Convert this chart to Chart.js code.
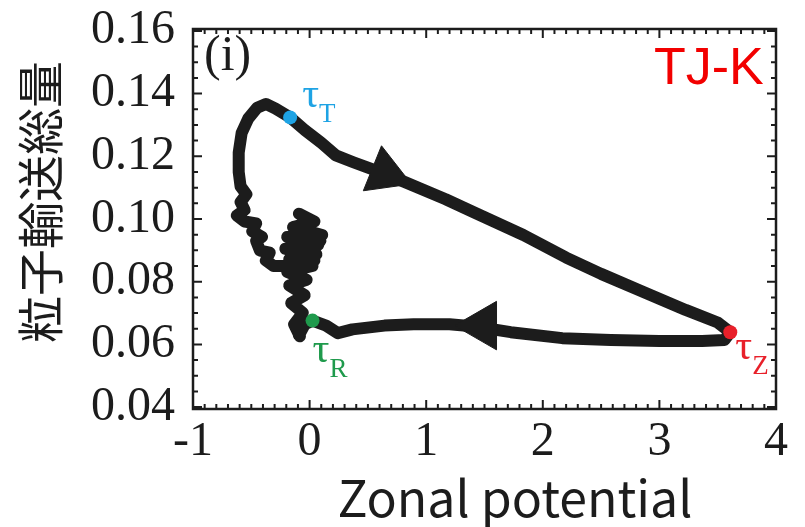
<!DOCTYPE html>
<html>
<head>
<meta charset="utf-8">
<script src="https://cdn.jsdelivr.net/npm/chart.js@4.4.0/dist/chart.umd.min.js"></script>
<style>
  html, body { margin: 0; padding: 0; background: #fff; }
  #wrap { width: 805px; height: 527px; }
</style>
</head>
<body>
<div id="wrap"><canvas id="LoopChart" width="805" height="527"></canvas></div>
<script>
// trajectory in (zonal potential, particle transport) space
var zonalX = [
  // turbulent phase near the origin
  -0.083, -0.133, -0.058, -0.158, -0.042, -0.175, -0.025, -0.192, 0.025, -0.175,
  0.058, -0.208, 0.075, -0.192, 0.108, -0.142, 0.042, -0.092, -0.008, -0.108,
  0.092, -0.158, 0.042, -0.108, -0.208,
  -0.308, -0.375, -0.342, -0.425, -0.458, -0.408, -0.492, -0.458, -0.558, -0.625,
  -0.558, -0.592, -0.542, -0.592,
  // rise to tau_T and the big loop
  -0.608, -0.608, -0.583, -0.525, -0.450, -0.375, -0.292, -0.167, -0.042, 0.100,
  0.225, 0.375, 0.600, 0.808, 1.167, 1.417, 1.833, 2.200, 2.500, 2.833,
  3.225, 3.500, 3.608, 3.558, 3.367, 3.000, 2.583, 2.167, 1.725, 1.417,
  1.200, 0.892, 0.642, 0.367, 0.242, 0.142, 0.025, -0.042, -0.092
];
var fluxY = [
  0.0626, 0.0664, 0.0701, 0.0732, 0.0757, 0.0788, 0.0806, 0.0831, 0.0850, 0.0871,
  0.0887, 0.0905, 0.0918, 0.0943, 0.0949, 0.0974, 0.0992, 0.1017, 0.0998, 0.0955,
  0.0930, 0.0887, 0.0868, 0.0825, 0.0850,
  0.0850, 0.0868, 0.0893, 0.0899, 0.0930, 0.0943, 0.0961, 0.0986, 0.0992, 0.1011,
  0.1029, 0.1054, 0.1079, 0.1104,
  0.1150, 0.1212, 0.1274, 0.1321, 0.1355, 0.1367, 0.1352, 0.1324, 0.1284, 0.1243,
  0.1203, 0.1181, 0.1150, 0.1119, 0.1063, 0.1020, 0.0949, 0.0877, 0.0825, 0.0772,
  0.0710, 0.0670, 0.0639, 0.0614, 0.0611, 0.0611, 0.0614, 0.0620, 0.0639, 0.0657,
  0.0664, 0.0664, 0.0660, 0.0648, 0.0636, 0.0660, 0.0676, 0.0664, 0.0629
];

// characteristic times tau_T, tau_R, tau_Z
var tauNames = ["T", "R", "Z"];
var tauX = [-0.167, 0.025, 3.608];
var tauY = [0.1324, 0.0676, 0.0639];
var tauColors = ["#1ea3e4", "#1f9a4c", "#e8202a"];

// direction arrows on the loop
var arrowX = [0.650, 1.483];
var arrowY = [0.1145, 0.0660];
var arrowAngle = [112, 270];

var xTicks = [-1, 0, 1, 2, 3, 4];
var yTicks = [0.04, 0.06, 0.08, 0.10, 0.12, 0.14, 0.16];

function pairs(xs, ys) {
  return xs.map(function (v, i) { return { x: v, y: ys[i] }; });
}

var ink = "#1c1c1c";

// inward ticks on all four sides + frame
var frameTicks = {
  id: "frameTicks",
  afterDraw: function (chart) {
    var ctx = chart.ctx;
    var a = chart.chartArea;
    var xs = chart.scales.x, ys = chart.scales.y;
    ctx.save();
    ctx.strokeStyle = ink;
    ctx.lineWidth = 2;
    var i, v, p, len;
    for (i = -10; i <= 40; i++) {
      v = i / 10;
      p = xs.getPixelForValue(v);
      if (p < a.left + 1 || p > a.right - 1) continue;
      len = (i % 10 === 0) ? 9 : 5;
      ctx.beginPath();
      ctx.moveTo(p, a.bottom); ctx.lineTo(p, a.bottom - len);
      ctx.moveTo(p, a.top); ctx.lineTo(p, a.top + len);
      ctx.stroke();
    }
    for (i = 8; i <= 32; i++) {
      v = i * 0.005;
      p = ys.getPixelForValue(v);
      if (p < a.top + 1 || p > a.bottom - 1) continue;
      len = (i % 4 === 0) ? 9 : 5;
      ctx.beginPath();
      ctx.moveTo(a.left, p); ctx.lineTo(a.left + len, p);
      ctx.moveTo(a.right, p); ctx.lineTo(a.right - len, p);
      ctx.stroke();
    }
    ctx.lineWidth = 2.5;
    ctx.strokeRect(a.left, a.top, a.right - a.left, a.bottom - a.top);
    ctx.restore();
  }
};

// panel tag, device name, tau labels, axis titles
var labels = {
  id: "labels",
  afterDraw: function (chart) {
    var ctx = chart.ctx;
    var xs = chart.scales.x, ys = chart.scales.y;
    ctx.save();
    ctx.fillStyle = ink;
    ctx.font = "50px 'Liberation Serif'";
    ctx.textBaseline = "alphabetic";
    ctx.textAlign = "left";
    ctx.fillText("(i)", 204, 70);

    ctx.fillStyle = "#f20000";
    ctx.font = "52px 'Liberation Sans'";
    ctx.fillText("TJ-K", 654, 84);

    // tau labels, offset from each marker
    var off = [[12, -10], [0, 41], [5, 27]];
    for (var i = 0; i < tauNames.length; i++) {
      var px = xs.getPixelForValue(tauX[i]) + off[i][0];
      var py = ys.getPixelForValue(tauY[i]) + off[i][1];
      ctx.fillStyle = tauColors[i];
      ctx.font = "42px 'Liberation Serif'";
      ctx.fillText("τ", px, py);
      var w = ctx.measureText("τ").width;
      ctx.font = "27px 'Liberation Serif'";
      ctx.fillText(tauNames[i], px + w, py + 15);
    }

    ctx.fillStyle = ink;
    ctx.textAlign = "center";
    ctx.textBaseline = "middle";
    ctx.font = "50px 'Noto Sans CJK JP'";
    ctx.fillText("Zonal potential", 515, 498);

    ctx.translate(40, 202);
    ctx.rotate(-Math.PI / 2);
    ctx.font = "47px 'Noto Sans CJK JP'";
    ctx.fillText("粒子輸送総量", 0, 0);
    ctx.restore();
  }
};

new Chart(document.getElementById("LoopChart"), {
  type: "scatter",
  data: {
    datasets: [
      {
        label: "loop",
        data: pairs(zonalX, fluxY),
        showLine: true,
        borderColor: ink,
        borderWidth: 12,
        borderJoinStyle: "round",
        borderCapStyle: "round",
        pointRadius: 0,
        tension: 0,
        order: 3,
      },
      {
        label: "arrows",
        data: pairs(arrowX, arrowY),
        pointStyle: "triangle",
        rotation: arrowAngle,
        pointRadius: 28,
        backgroundColor: ink,
        borderColor: ink,
        borderWidth: 1,
        order: 2,
      },
      {
        label: "tau",
        data: pairs(tauX, tauY),
        pointStyle: "circle",
        pointRadius: 7,
        backgroundColor: tauColors,
        borderWidth: 0,
        order: 1,
      },
    ],
  },
  options: {
    responsive: false,
    animation: false,
    layout: { padding: { left: 0, right: 12, top: 18, bottom: 0 } },
    plugins: {
      legend: { display: false },
      tooltip: { enabled: false },
    },
    scales: {
      x: {
        type: "linear",
        min: -1,
        max: 4,
        afterFit: function (scale) {
          scale.height = 118;
          scale.paddingLeft = 0;
          scale.paddingRight = 0;
        },
        afterBuildTicks: function (scale) {
          scale.ticks = xTicks.map(function (v) { return { value: v }; });
        },
        grid: { display: false, drawTicks: false, tickLength: 0 },
        border: { display: false },
        ticks: {
          color: ink,
          padding: 5,
          autoSkip: false,
          maxRotation: 0,
          font: { family: "'Liberation Serif'", size: 48 },
          callback: function (v) { return String(v); },
        },
      },
      y: {
        type: "linear",
        min: 0.0394,
        max: 0.1606,
        afterFit: function (scale) {
          scale.width = 193;
          scale.paddingTop = 0;
          scale.paddingBottom = 0;
        },
        afterBuildTicks: function (scale) {
          scale.ticks = yTicks.map(function (v) { return { value: v }; });
        },
        grid: { display: false, drawTicks: false, tickLength: 0 },
        border: { display: false },
        ticks: {
          color: ink,
          padding: 18,
          autoSkip: false,
          font: { family: "'Liberation Serif'", size: 48 },
          callback: function (v) { return Number(v).toFixed(2); },
        },
      },
    },
  },
  plugins: [frameTicks, labels],
});
</script>
</body>
</html>
